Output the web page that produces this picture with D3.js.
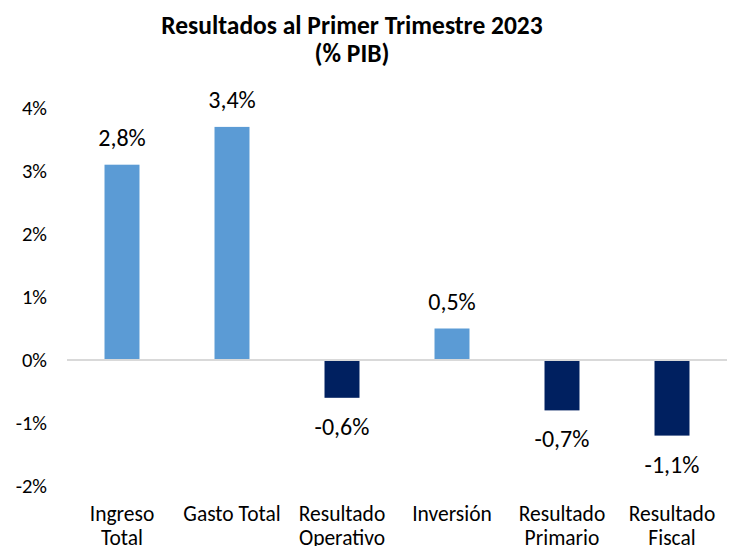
<!DOCTYPE html>
<html>
<head>
<meta charset="utf-8">
<script src="https://cdn.jsdelivr.net/npm/d3@7"></script>
<style>
  html, body { margin: 0; padding: 0; background: #fff; }
  svg { display: block; font-family: Carlito, Calibri, Lato, sans-serif; }
</style>
</head>
<body>
<svg id="chart" width="730" height="546"></svg>
<script>
// ---- data ----
const categories = [["Ingreso", "Total"], ["Gasto Total"], ["Resultado", "Operativo"], ["Inversión"], ["Resultado", "Primario"], ["Resultado", "Fiscal"]];
const values = [3.1, 3.7, -0.6, 0.5, -0.8, -1.2];
const valueLabels = ["2,8%", "3,4%", "-0,6%", "0,5%", "-0,7%", "-1,1%"];
const yTicks = [-2, -1, 0, 1, 2, 3, 4];
const titleLines = ["Resultados al Primer Trimestre 2023", "(% PIB)"];

const svg = d3.select("#chart");
const W = 730, H = 546;
const margin = { left: 67, right: 3, top: 108, bottom: 60 };

const x = d3.scaleBand()
  .domain(d3.range(values.length))
  .range([margin.left, W - margin.right])
  .paddingInner(0.682)
  .paddingOuter(0.341);

const y = d3.scaleLinear()
  .domain([-2, 4])
  .range([H - margin.bottom, margin.top]);

// title
svg.append("g")
  .selectAll("text")
  .data(titleLines)
  .join("text")
  .attr("x", 352)
  .attr("y", (d, i) => 34 + i * 28)
  .attr("text-anchor", "middle")
  .attr("font-weight", "bold")
  .attr("font-size", 25.5)
  .attr("fill", "#000")
  .text(d => d);

// y axis (labels only)
const yAxis = d3.axisLeft(y)
  .tickValues(yTicks)
  .tickSize(0)
  .tickPadding(0)
  .tickFormat(d => d + "%");
const gy = svg.append("g")
  .attr("transform", "translate(47,0)")
  .call(yAxis);
gy.select(".domain").remove();
gy.selectAll("text")
  .attr("font-size", 20.5)
  .attr("font-family", "Carlito, Calibri, Lato, sans-serif")
  .attr("fill", "#000");

// bars
svg.append("g")
  .selectAll("rect")
  .data(values)
  .join("rect")
  .attr("x", (d, i) => x(i))
  .attr("width", x.bandwidth())
  .attr("y", d => y(Math.max(0, d)))
  .attr("height", d => Math.abs(y(d) - y(0)))
  .attr("fill", d => d >= 0 ? "#5B9BD5" : "#002060");

// zero line
svg.append("line")
  .attr("x1", margin.left)
  .attr("x2", W - margin.right)
  .attr("y1", y(0))
  .attr("y2", y(0))
  .attr("stroke", "#D9D9D9")
  .attr("stroke-width", 2);

// value labels
svg.append("g")
  .selectAll("text")
  .data(values)
  .join("text")
  .attr("x", (d, i) => x(i) + x.bandwidth() / 2)
  .attr("y", d => d >= 0 ? y(d) - 19 : y(d) + 37)
  .attr("text-anchor", "middle")
  .attr("font-size", 24)
  .attr("fill", "#000")
  .text((d, i) => valueLabels[i]);

// category labels
const cat = svg.append("g")
  .selectAll("text")
  .data(categories)
  .join("text")
  .attr("x", (d, i) => x(i) + x.bandwidth() / 2)
  .attr("y", 521)
  .attr("text-anchor", "middle")
  .attr("font-size", 21.5)
  .attr("fill", "#000");
cat.selectAll("tspan")
  .data(d => d)
  .join("tspan")
  .attr("x", function() { return this.parentNode.getAttribute("x"); })
  .attr("dy", (d, i) => i === 0 ? 0 : 24)
  .text(d => d);
</script>
</body>
</html>
